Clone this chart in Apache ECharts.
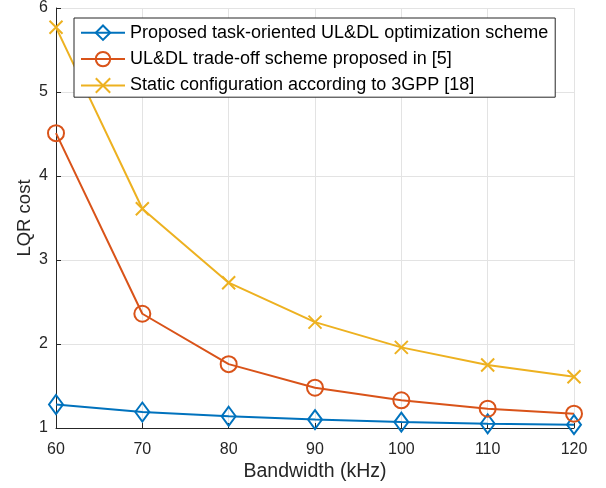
<!DOCTYPE html>
<html>
<head>
<meta charset="utf-8">
<script src="https://cdn.jsdelivr.net/npm/echarts@6/dist/echarts.min.js"></script>
<style>
  html, body { margin: 0; padding: 0; background: #fff; }
  #chart { width: 606px; height: 488px; }
</style>
</head>
<body>
<div id="chart"></div>
<script>
// bandwidth (kHz) on the x axis
const bandwidth = [60, 70, 80, 90, 100, 110, 120];
// LQR cost per scheme
const proposed = [1.28, 1.19, 1.14, 1.10, 1.07, 1.05, 1.04];
const tradeoff = [4.51, 2.36, 1.76, 1.48, 1.33, 1.23, 1.17];
const static3gpp = [5.77, 3.61, 2.73, 2.26, 1.96, 1.75, 1.61];
const seriesNames = [
  'Proposed task-oriented UL&DL optimization scheme',
  'UL&DL trade-off scheme proposed in [5]',
  'Static configuration according to 3GPP [18]'
];

const FONT = 'Liberation Sans';
const AXIS = '#262626';

function pairs(ys) {
  return bandwidth.map((x, i) => [x, ys[i]]);
}

function makeSeries(name, ys, color, symbol, size) {
  return {
    name: name,
    type: 'line',
    data: pairs(ys),
    symbol: symbol,
    symbolSize: size,
    showAllSymbol: true,
    lineStyle: { color: color, width: 2 },
    itemStyle: { color: 'none', borderColor: color, borderWidth: 2 },
    emphasis: { disabled: true },
    animation: false
  };
}

const chart = echarts.init(document.getElementById('chart'));
chart.setOption({
  backgroundColor: '#fff',
  textStyle: { fontFamily: FONT },
  grid: { left: 56, right: 32, top: 5, bottom: 60, containLabel: false },
  legend: {
    orient: 'vertical',
    left: 74,
    top: 18,
    padding: [5, 7, 2, 6],
    itemGap: 7,
    itemWidth: 44,
    itemHeight: 18,
    backgroundColor: '#fff',
    borderColor: AXIS,
    borderWidth: 1,
    borderRadius: 0,
    textStyle: { fontFamily: FONT, fontSize: 18, color: '#000' },
    data: seriesNames
  },
  xAxis: {
    type: 'value',
    min: 60,
    max: 120,
    interval: 10,
    name: 'Bandwidth (kHz)',
    nameLocation: 'middle',
    nameGap: 34,
    nameMoveOverlap: false,
    nameTextStyle: { fontFamily: FONT, fontSize: 19.5, color: AXIS },
    axisLine: { lineStyle: { color: AXIS, width: 1 } },
    axisTick: { inside: true, length: 5, lineStyle: { color: AXIS } },
    axisLabel: { fontFamily: FONT, fontSize: 16, color: AXIS, margin: 14 },
    splitLine: { show: true, lineStyle: { color: '#e3e3e3', width: 1 } }
  },
  yAxis: {
    type: 'value',
    min: 1,
    max: 6,
    interval: 1,
    name: 'LQR cost',
    nameLocation: 'middle',
    nameGap: 22,
    nameMoveOverlap: false,
    nameTextStyle: { fontFamily: FONT, fontSize: 18.5, color: AXIS },
    axisLine: { show: true, lineStyle: { color: AXIS, width: 1 } },
    axisTick: { show: true, inside: true, length: 5, lineStyle: { color: AXIS } },
    axisLabel: { fontFamily: FONT, fontSize: 16, color: AXIS, margin: 8 },
    splitLine: { show: true, lineStyle: { color: '#e3e3e3', width: 1 } }
  },
  series: [
    makeSeries(seriesNames[0], proposed, '#0072BD', 'diamond', [14, 19]),
    makeSeries(seriesNames[1], tradeoff, '#D95319', 'circle', [16, 16]),
    makeSeries(seriesNames[2], static3gpp, '#EDB120', 'path://M0,0L10,10M10,0L0,10', [13, 13])
  ]
});
</script>
</body>
</html>
